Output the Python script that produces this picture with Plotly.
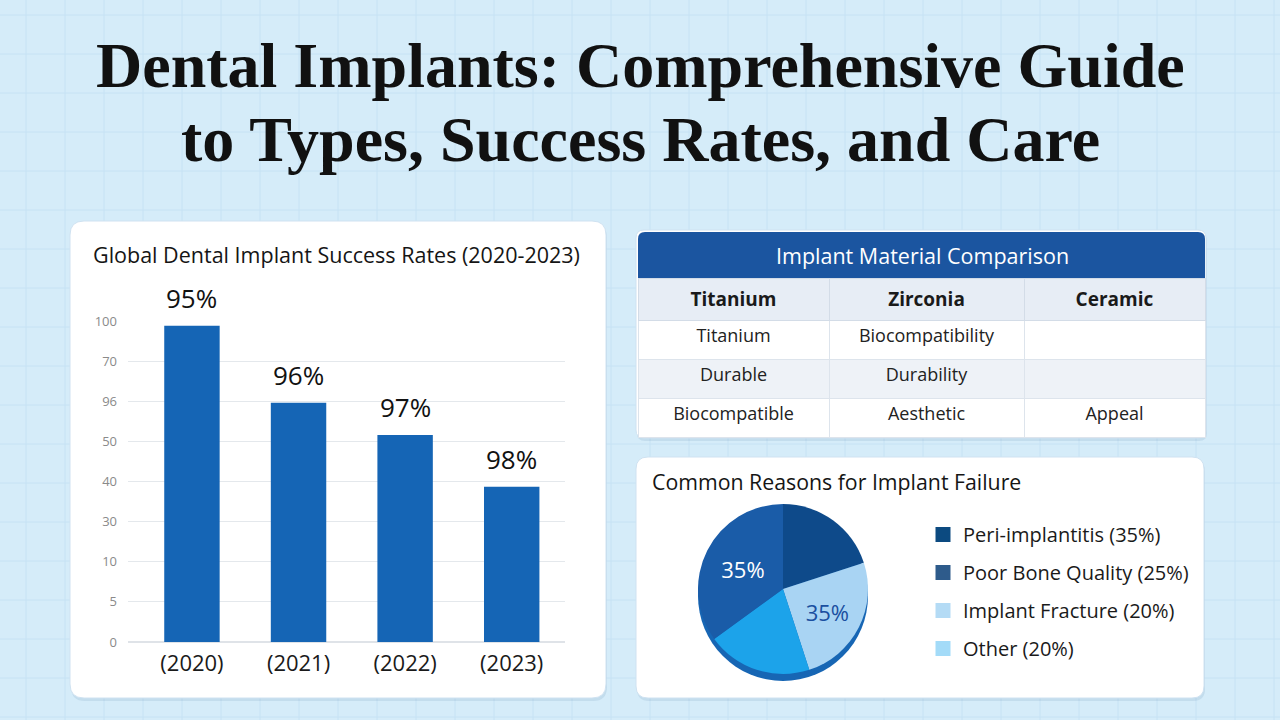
import plotly.graph_objects as go

W, H = 1280, 720


def fx(x):
    return x / W


def fy(y):
    return 1 - y / H


# ---------------- data ----------------
title_lines = ["Dental Implants: Comprehensive Guide", "to Types, Success Rates, and Care"]

bar_title = "Global Dental Implant Success Rates (2020-2023)"
years = ["(2020)", "(2021)", "(2022)", "(2023)"]
bar_heights = [7.88, 5.96, 5.16, 3.87]          # in gridline steps as drawn
bar_labels = ["95%", "96%", "97%", "98%"]
y_tick_text = ["0", "5", "10", "30", "40", "50", "96", "70", "100"]

table_title = "Implant Material Comparison"
table_columns = ["Titanium", "Zirconia", "Ceramic"]
titanium_cells = ["Titanium", "Durable", "Biocompatible"]
zirconia_cells = ["Biocompatibility", "Durability", "Aesthetic"]
ceramic_cells = ["", "", "Appeal"]

pie_title = "Common Reasons for Implant Failure"
pie_labels = ["Other", "Poor Bone Quality", "Implant Fracture", "Peri-implantitis"]
pie_values = [20, 25, 20, 35]
pie_text = ["", "35%", "", "35%"]
legend_names = ["Peri-implantitis (35%)", "Poor Bone Quality (25%)",
                "Implant Fracture (20%)", "Other (20%)"]

# ---------------- styles ----------------
SANS = "Open Sans, Noto Sans, sans-serif"
SERIF = "Liberation Serif, DejaVu Serif, serif"
BG = "#d5ecf9"
GRIDBG = "#c6e2f4"
BAR = "#1565b5"
pie_colors = ["#0e4a8a", "#a9d4f3", "#1ca3ea", "#1a5ca8"]
pie_text_colors = ["white", "#1a4fa0", "white", "white"]
legend_colors = ["#0c4a80", "#2e5b8b", "#b4dbf5", "#a3dbf8"]


def rrect(x0, y0, x1, y1, r, top_only=False):
    rb = 0 if top_only else r
    pts = [
        f"M {fx(x0 + r)},{fy(y0)}",
        f"L {fx(x1 - r)},{fy(y0)}",
        f"Q {fx(x1)},{fy(y0)} {fx(x1)},{fy(y0 + r)}",
        f"L {fx(x1)},{fy(y1 - rb)}",
        f"Q {fx(x1)},{fy(y1)} {fx(x1 - rb)},{fy(y1)}",
        f"L {fx(x0 + rb)},{fy(y1)}",
        f"Q {fx(x0)},{fy(y1)} {fx(x0)},{fy(y1 - rb)}",
        f"L {fx(x0)},{fy(y0 + r)}",
        f"Q {fx(x0)},{fy(y0)} {fx(x0 + r)},{fy(y0)}",
        "Z",
    ]
    return " ".join(pts)


shapes = []
# background grid
x = 26
while x < W:
    shapes.append(dict(type="line", xref="paper", yref="paper", x0=fx(x), x1=fx(x), y0=0, y1=1,
                       line=dict(color=GRIDBG, width=1), layer="below"))
    x += 39
y = 15
while y < H:
    shapes.append(dict(type="line", xref="paper", yref="paper", x0=0, x1=1, y0=fy(y), y1=fy(y),
                       line=dict(color=GRIDBG, width=1), layer="below"))
    y += 39

# panels (with soft shadow)
for (x0, y0, x1, y1, r) in [(70, 221, 606, 698, 14), (636, 230, 1206, 438, 8), (636, 457, 1204, 698, 12)]:
    shapes.append(dict(type="path", xref="paper", yref="paper", path=rrect(x0 + 1, y0 + 3, x1 + 1, y1 + 3, r),
                       fillcolor="rgba(40,90,140,0.10)", line=dict(width=0), layer="below"))
    shapes.append(dict(type="path", xref="paper", yref="paper", path=rrect(x0, y0, x1, y1, r),
                       fillcolor="white", line=dict(color="#cfe2f1", width=1), layer="below"))

# table title bar
shapes.append(dict(type="path", xref="paper", yref="paper", path=rrect(638, 232, 1205, 278, 7, top_only=True),
                   fillcolor="#1b55a0", line=dict(width=0), layer="below"))

# pie rim (3D edge)
shapes.append(dict(type="circle", xref="paper", yref="paper",
                   x0=fx(783 - 85), x1=fx(783 + 85), y0=fy(589 + 85 + 7), y1=fy(589 - 85 + 7),
                   fillcolor="#1766b4", line=dict(width=0), layer="below"))

fig = go.Figure()

# bar chart
fig.add_trace(go.Bar(
    x=years, y=bar_heights, marker=dict(color=BAR, line=dict(width=0)),
    width=0.52, showlegend=False, hoverinfo="skip",
))

# table
fig.add_trace(go.Table(
    domain=dict(x=[fx(638), fx(1205)], y=[fy(438), fy(278)]),
    columnwidth=[191, 195, 181],
    header=dict(values=[f"<b>{c}</b>" for c in table_columns], height=42,
                fill_color="#e7edf5", line=dict(color="#d3dce7", width=1),
                font=dict(family=SANS, size=19, color="#1a1a1a"), align="center"),
    cells=dict(values=[titanium_cells, zirconia_cells, ceramic_cells], height=39,
               fill_color=[["white", "#eef2f7", "white"]] * 3,
               line=dict(color="#dde4ec", width=1),
               font=dict(family=SANS, size=18, color="#222222"), align="center"),
))

# pie
fig.add_trace(go.Pie(
    labels=pie_labels, values=pie_values, sort=False, direction="clockwise", rotation=0,
    domain=dict(x=[fx(698), fx(868)], y=[fy(674), fy(504)]),
    marker=dict(colors=pie_colors, line=dict(width=0)),
    text=pie_text, textinfo="text", textposition="inside", insidetextorientation="horizontal",
    textfont=dict(family=SANS, size=22, color=pie_text_colors),
    showlegend=False, hoverinfo="label+value",
))

# legend entries
for name, col in zip(legend_names, legend_colors):
    fig.add_trace(go.Scatter(
        x=[None], y=[None], mode="markers", name=name, legendgroup=name,
        marker=dict(symbol="square", size=15, color=col), showlegend=True,
    ))

annotations = []
for i, line in enumerate(title_lines):
    annotations.append(dict(text=f"<b>{line}</b>", x=0.5, y=fy([65, 139][i]), xref="paper", yref="paper",
                            xanchor="center", yanchor="middle", showarrow=False,
                            font=dict(family=SERIF, size=64, color="#111111")))
annotations.append(dict(text=bar_title, x=fx(91), y=fy(254), xref="paper", yref="paper",
                        xanchor="left", yanchor="middle", showarrow=False,
                        font=dict(family=SANS, size=21.5, color="#151515")))
annotations.append(dict(text=table_title, x=fx(922), y=fy(255), xref="paper", yref="paper",
                        xanchor="center", yanchor="middle", showarrow=False,
                        font=dict(family=SANS, size=21.5, color="white")))
annotations.append(dict(text=pie_title, x=fx(650), y=fy(482), xref="paper", yref="paper",
                        xanchor="left", yanchor="middle", showarrow=False,
                        font=dict(family=SANS, size=21.3, color="#151515")))
for yr, h, lab in zip(years, bar_heights, bar_labels):
    annotations.append(dict(text=lab, x=yr, y=h, xref="x", yref="y", xanchor="center", yanchor="bottom",
                            yshift=8, showarrow=False, font=dict(family=SANS, size=26, color="#111111")))

fig.update_layout(
    width=W, height=H, margin=dict(l=0, r=0, t=0, b=0, autoexpand=False),
    paper_bgcolor=BG, plot_bgcolor="rgba(0,0,0,0)",
    shapes=shapes, annotations=annotations,
    xaxis=dict(domain=[fx(128), fx(565)], range=[-0.6, 3.5], type="category", automargin=False,
               showgrid=False, zeroline=False, showline=False, ticks="",
               tickfont=dict(family=SANS, size=22, color="#1a1a1a"), ticklabelstandoff=6,
               fixedrange=True),
    yaxis=dict(domain=[fy(642), fy(321)], range=[0, 8], tickvals=list(range(9)), ticktext=y_tick_text,
               automargin=False,
               showgrid=True, gridcolor="#e4e8ec", gridwidth=1, zeroline=True, zerolinecolor="#dfe3e8",
               showline=False, ticks="", tickfont=dict(family=SANS, size=13, color="#8a8a8a"),
               ticklabelstandoff=10, fixedrange=True),
    legend=dict(x=fx(923), y=fy(515), xanchor="left", yanchor="top", bgcolor="rgba(0,0,0,0)",
                font=dict(family=SANS, size=20, color="#1a1a1a"), tracegroupgap=9, itemwidth=30),
    bargap=0.4,
)

fig.write_html("out.html")
